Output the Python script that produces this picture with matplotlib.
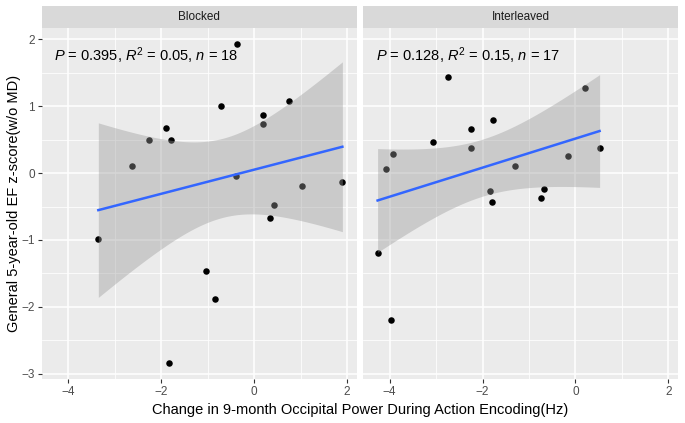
import numpy as np
import matplotlib
matplotlib.use("Agg")
import matplotlib.pyplot as plt

plt.rcParams['font.family'] = ['Liberation Sans', 'DejaVu Sans']
plt.rcParams['mathtext.fontset'] = 'custom'
plt.rcParams['mathtext.rm'] = 'Liberation Sans'
plt.rcParams['mathtext.it'] = 'Liberation Sans:italic'

# data
blocked_x = [-0.37, -0.71, 0.76, 0.19, 0.19, -1.90, -2.26, -1.78, -2.62,
             -0.38, 1.03, 1.90, 0.43, 0.34, -3.35, -1.03, -0.85, -1.82]
blocked_y = [1.93, 1.00, 1.07, 0.87, 0.74, 0.67, 0.49, 0.50, 0.10,
             -0.04, -0.19, -0.13, -0.47, -0.67, -0.98, -1.47, -1.88, -2.84]

inter_x = [-2.75, 0.20, -1.77, -2.25, -3.06, -2.25, 0.52, -3.93, -0.15,
           -4.07, -1.30, -1.85, -0.68, -0.75, -1.80, -4.26, -3.98]
inter_y = [1.43, 1.27, 0.79, 0.66, 0.47, 0.37, 0.38, 0.28, 0.25,
           0.06, 0.11, -0.27, -0.24, -0.38, -0.44, -1.20, -2.19]

panel_names = ['Blocked', 'Interleaved']
stats_text = [r'$P$ = 0.395, $R^2$ = 0.05, $n$ = 18',
              r'$P$ = 0.128, $R^2$ = 0.15, $n$ = 17']
# t quantile 0.975 for df = n - 2
t_crit = {16: 2.119905, 15: 2.131450}

xticks = [-4, -2, 0, 2]
yticks = [-3, -2, -1, 0, 1, 2]

fig = plt.figure(figsize=(6.85, 4.23), dpi=100)
W, H = 685, 423
panels = [(41.7, 356.7), (363.3, 678.0)]
top, bottom, strip_top = 28, 379, 6

all_x = blocked_x + inter_x
all_y = blocked_y + inter_y
xr = max(all_x) - min(all_x)
yr = max(all_y) - min(all_y)
xlim = (min(all_x) - 0.05 * xr, max(all_x) + 0.05 * xr)
ylim = (min(all_y) - 0.05 * yr, max(all_y) + 0.05 * yr)

datasets = [(blocked_x, blocked_y), (inter_x, inter_y)]

for i, ((x0, x1), (xs, ys)) in enumerate(zip(panels, datasets)):
    ax = fig.add_axes([x0 / W, 1 - bottom / H, (x1 - x0) / W, (bottom - top) / H])
    ax.set_facecolor('#EBEBEB')
    for s in ax.spines.values():
        s.set_visible(False)
    ax.set_xlim(xlim)
    ax.set_ylim(ylim)
    ax.set_xticks(xticks)
    ax.set_yticks(yticks)
    ax.set_xticks([-3, -1, 1], minor=True)
    ax.set_yticks([-2.5, -1.5, -0.5, 0.5, 1.5], minor=True)
    ax.grid(True, which='major', color='white', lw=1.1)
    ax.grid(True, which='minor', color='white', lw=0.55)
    ax.set_axisbelow(True)
    ax.tick_params(which='minor', length=0)
    ax.tick_params(which='major', length=3, width=0.8, color='#333333',
                   labelcolor='#4D4D4D', labelsize=8.5, pad=2)
    if i > 0:
        ax.tick_params(axis='y', left=False, labelleft=False)

    xa = np.array(xs)
    ya = np.array(ys)
    ax.scatter(xa, ya, s=22, color='black', zorder=2, linewidths=0)

    # linear fit with 95% confidence band
    n = len(xa)
    b, a = np.polyfit(xa, ya, 1)
    resid = ya - (a + b * xa)
    sigma = np.sqrt(np.sum(resid ** 2) / (n - 2))
    sxx = np.sum((xa - xa.mean()) ** 2)
    grid = np.linspace(xa.min(), xa.max(), 80)
    fit = a + b * grid
    se = sigma * np.sqrt(1 / n + (grid - xa.mean()) ** 2 / sxx)
    band = t_crit[n - 2] * se
    ax.fill_between(grid, fit - band, fit + band, color='#999999', alpha=0.4,
                    linewidth=0, zorder=3)
    ax.plot(grid, fit, color='#3366FF', lw=1.8, zorder=4)

    ax.text(-4.3, 1.76, stats_text[i], fontsize=10.5, va='center', ha='left',
            color='black', zorder=5)

    # facet strip
    sax = fig.add_axes([x0 / W, 1 - top / H, (x1 - x0) / W, (top - strip_top) / H])
    sax.set_facecolor('#D9D9D9')
    sax.set_xticks([])
    sax.set_yticks([])
    for s in sax.spines.values():
        s.set_visible(False)
    sax.text(0.5, 0.5, panel_names[i], ha='center', va='center',
             fontsize=8.5, color='#1A1A1A', transform=sax.transAxes)

fig.text((panels[0][0] + panels[1][1]) / 2 / W, 1 - 410 / H,
         'Change in 9-month Occipital Power During Action Encoding(Hz)',
         ha='center', va='center', fontsize=10.5)
fig.text(14 / W, 1 - (top + bottom) / 2 / H,
         'General 5-year-old EF z-score(w/o MD)',
         ha='center', va='center', rotation=90, fontsize=10.5)

fig.savefig('out.png', dpi=100)
